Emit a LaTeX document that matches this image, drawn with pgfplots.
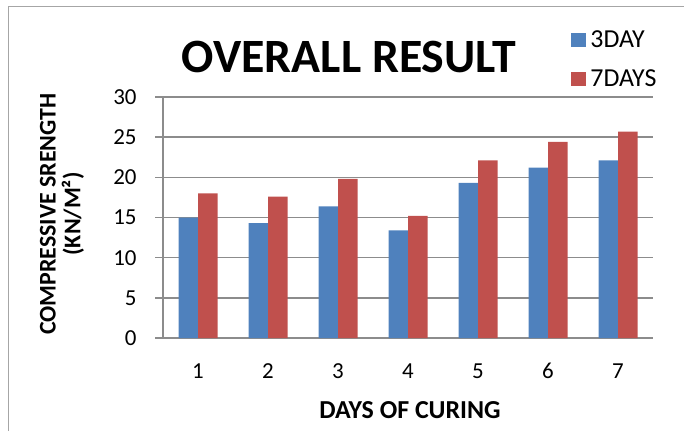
\documentclass[border=0pt]{standalone}
\usepackage{fontspec}
\setmainfont{Carlito}
\usepackage{pgfplots}
\pgfplotsset{compat=1.18}
\definecolor{excelblue}{HTML}{4F81BD}
\definecolor{excelred}{HTML}{C0504D}
\definecolor{gridgray}{HTML}{8C8C8C}
\definecolor{framegray}{HTML}{A6A6A6}
\begin{document}
\begin{tikzpicture}[x=1bp,y=1bp]
\useasboundingbox (0,0) rectangle (684,431);
\draw[framegray,line width=1bp] (8,0) -- (8,424) -- (684,424);
\begin{axis}[
    at={(163bp,93bp)}, anchor=south west,
    scale only axis, width=490bp, height=241bp,
    xmin=0.5, xmax=7.5, ymin=0, ymax=30,
    xtick={1,...,7}, ytick={0,5,...,30},
    ybar=0pt, bar width=19.5bp,
    axis x line*=bottom, axis y line*=left,
    axis line style={gridgray,line width=1.5bp},
    ymajorgrids, grid style={gridgray,line width=1.5bp},
    tick align=outside, major tick length=8bp,
    ytick style={gridgray,line width=1.5bp},
    xtick style={draw=none},
    /pgf/number format/assume math mode=true,
    ticklabel style={font=\fontsize{23}{26}\selectfont},
    yticklabel style={xshift=-15bp},
    xticklabel style={yshift=-14bp},
    legend style={at={(0.833,1.285)}, anchor=north west, draw=none, fill=none,
        font=\fontsize{26}{28}\selectfont, row sep=17bp,
        legend cell align=left, inner sep=0pt,
        nodes={inner xsep=4bp}},
    legend image code/.code={\fill[#1,draw=none] (0bp,-7bp) rectangle (15bp,7bp);},
]
\addplot[fill=excelblue, draw=none] coordinates {
(1,15.0) (2,14.3) (3,16.4) (4,13.4) (5,19.3) (6,21.2) (7,22.1)};
\addplot[fill=excelred, draw=none] coordinates {
(1,18.0) (2,17.6) (3,19.8) (4,15.2) (5,22.1) (6,24.4) (7,25.7)};
\legend{3DAY,7DAYS}
\end{axis}
\node[font=\bfseries\fontsize{48}{50}\selectfont] at (349,374) {OVERALL RESULT};
\node[font=\bfseries\fontsize{26}{28}\selectfont] at (410,21) {DAYS OF CURING};
\node[font=\bfseries\fontsize{24}{25}\selectfont, rotate=90, align=center] at (62,217)
    {COMPRESSIVE SRENGTH\\(KN/M²)};
\end{tikzpicture}
\end{document}
